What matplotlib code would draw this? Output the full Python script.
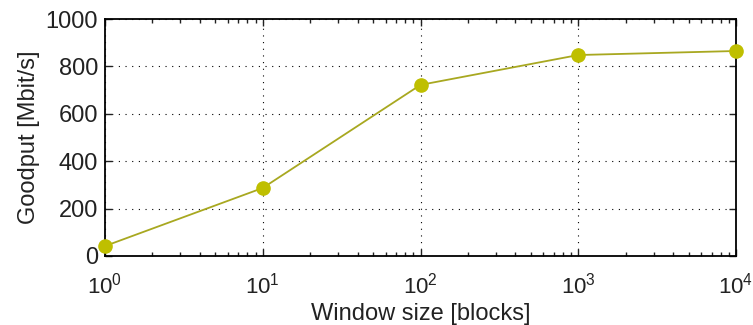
import matplotlib
matplotlib.use("Agg")
import matplotlib.pyplot as plt
from matplotlib.ticker import LogLocator, FixedLocator

# Data
window_size = [1, 10, 100, 1000, 10000]
goodput = [42, 287, 722, 848, 865]
y_ticks = [0, 200, 400, 600, 800, 1000]

plt.rcParams['font.family'] = ['Liberation Sans', 'DejaVu Sans']
plt.rcParams['mathtext.fontset'] = 'custom'
plt.rcParams['mathtext.rm'] = 'Liberation Sans'
plt.rcParams['mathtext.it'] = 'Liberation Sans'

fig = plt.figure(figsize=(7.53, 3.25), dpi=100)
ax = fig.add_axes([105 / 753, 1 - 256 / 325, 631 / 753, 237 / 325])

ax.plot(window_size, goodput, color='#a8a820', linewidth=1.3,
        marker='o', markersize=9.5, markerfacecolor='#bfbf00',
        markeredgecolor='#bfbf00', clip_on=False, zorder=3)

ax.set_xscale('log')
ax.set_xlim(1, 10000)
ax.set_ylim(0, 1000)
ax.set_yticks(y_ticks)
ax.xaxis.set_major_locator(FixedLocator(window_size))
ax.xaxis.set_minor_locator(LogLocator(base=10, subs=range(2, 10)))

ax.grid(True, which='major', linestyle=(0, (1, 5)), color='black', linewidth=0.8)
ax.tick_params(which='both', direction='in', top=True, right=True,
               labelsize=17, width=1, colors='#222222')
ax.tick_params(which='major', length=5)
ax.tick_params(which='minor', length=3)
ax.tick_params(axis='x', pad=12, labelsize=16)
ax.tick_params(axis='y', pad=5)
for s in ax.spines.values():
    s.set_linewidth(1.3)

ax.set_xlabel('Window size [blocks]', fontsize=17, color='#222222', labelpad=3)
ax.set_ylabel('Goodput [Mbit/s]', fontsize=17, color='#222222', labelpad=4)

fig.savefig('out.png', dpi=100)
